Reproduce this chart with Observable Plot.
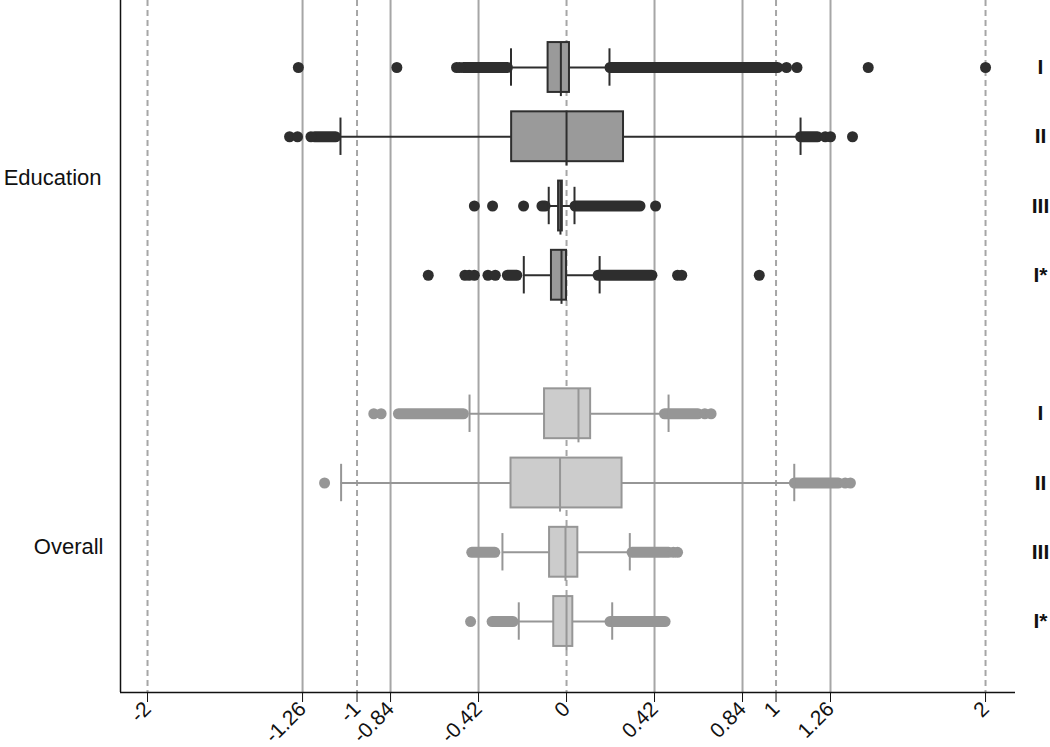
<!DOCTYPE html>
<html>
<head>
<meta charset="utf-8">
<script src="https://cdn.jsdelivr.net/npm/d3@7"></script>
<script src="https://cdn.jsdelivr.net/npm/@observablehq/plot@0.6"></script>
<style>
  html, body { margin: 0; padding: 0; background: #fff; }
</style>
</head>
<body>
<div id="chart"></div>
<script>
// ---- data ----
const groupNames  = ["Education", "Education", "Education", "Education", "Overall", "Overall", "Overall", "Overall"];
const rowLabels   = ["I", "II", "III", "I*", "I", "II", "III", "I*"];
const rowSlot     = [0, 1, 2, 3, 5, 6, 7, 8];   // slot 4 is the gap between groups
const lowerWhisker = [-0.265, -1.079, -0.085, -0.204, -0.463, -1.076, -0.306, -0.228];
const q1Values     = [-0.088, -0.262, -0.038, -0.072, -0.105, -0.265, -0.081, -0.061];
const medianValues = [-0.027,  0.000, -0.029, -0.024,  0.057, -0.031, -0.005,  0.000];
const q3Values     = [ 0.014,  0.272, -0.020,  0.000,  0.115,  0.265,  0.054,  0.030];
const upperWhisker = [ 0.205,  1.117,  0.038,  0.158,  0.487,  1.087,  0.302,  0.218];
// isolated outliers
const outlierValues = [
  [-1.28, -0.81, -0.525, -0.51, 1.05, 1.10, 1.44, 2.0],
  [-1.322, -1.284, -1.22, 1.235, 1.26, 1.365],
  [-0.44, -0.353, -0.205, 0.425],
  [-0.66, -0.485, -0.465, -0.44, -0.375, -0.34, 0.53, 0.55, 0.92],
  [-0.92, -0.885, 0.66, 0.69],
  [-1.155, 1.33, 1.355],
  [0.51, 0.53],
  [-0.458]
];
// runs of densely overlapping outliers [from, to]
const outlierRuns = [
  [[-0.49, -0.28], [0.21, 1.01]],
  [[-1.20, -1.10], [1.12, 1.20]],
  [[-0.115, -0.10], [0.043, 0.353]],
  [[-0.28, -0.235], [0.153, 0.41]],
  [[-0.80, -0.49], [0.47, 0.63]],
  [[1.09, 1.30]],
  [[-0.45, -0.34], [0.315, 0.49]],
  [[-0.353, -0.253], [0.21, 0.473]]
];
const xTicks = [-2, -1.26, -1, -0.84, -0.42, 0, 0.42, 0.84, 1, 1.26, 2];
const solidGrid = [-1.26, -0.84, -0.42, 0.42, 0.84, 1.26];
const dashedGrid = [-2, -1, 0, 1, 2];
const groupLabels = ["Education", "Overall"];

// ---- styles ----
const palette = {
  Education: {fill: "#9a9a9a", stroke: "#2e2e2e"},
  Overall:   {fill: "#cccccc", stroke: "#969696"}
};
const xDomain = [-2.129, 2.143];
const yDomain = [9.025, -0.9675];
const boxHalf = 0.36, capHalf = 0.27;

const rows = rowLabels.map((label, k) => ({
  label, group: groupNames[k], i: rowSlot[k],
  lo: lowerWhisker[k], q1: q1Values[k], med: medianValues[k], q3: q3Values[k], hi: upperWhisker[k]
}));
const caps = rows.flatMap(r => [{i: r.i, x: r.lo, group: r.group}, {i: r.i, x: r.hi, group: r.group}]);
const outs = rows.flatMap((r, k) => outlierValues[k].map(v => ({i: r.i, x: v, group: r.group})));
const runs = rows.flatMap((r, k) => outlierRuns[k].map(([a, b]) => ({i: r.i, x1: a, x2: b, group: r.group})));
const groupMid = groupLabels.map(g => d3.mean(rows.filter(r => r.group === g), r => r.i));

const fillOf = d => palette[d.group].fill;
const strokeOf = d => palette[d.group].stroke;
const font = "'Liberation Sans', Arial, sans-serif";

const chart = Plot.plot({
  width: 1050,
  height: 747,
  marginLeft: 120,
  marginRight: 35,
  marginTop: 0,
  marginBottom: 55,
  style: {fontFamily: font, fontSize: "18px", background: "#fff", color: "#111"},
  x: {domain: xDomain, label: null},
  y: {domain: yDomain, axis: null},
  marks: [
    Plot.ruleX(solidGrid, {stroke: "#a6a6a6", strokeWidth: 2}),
    Plot.ruleX(dashedGrid, {stroke: "#a6a6a6", strokeWidth: 2, strokeDasharray: "6,4"}),
    Plot.axisX({ticks: xTicks, tickFormat: d => String(d), tickRotate: -45, tickSize: 10, tickPadding: 3, fontSize: 21, stroke: "#111", fill: "#111", label: null}),
    Plot.ruleX([xDomain[0]], {stroke: "#111", strokeWidth: 1.5}),
    Plot.ruleY([yDomain[0]], {stroke: "#111", strokeWidth: 1.5}),
    Plot.ruleY(rows, {y: "i", x1: "lo", x2: "hi", stroke: strokeOf, strokeWidth: 2}),
    Plot.ruleY(runs, {y: "i", x1: "x1", x2: "x2", stroke: strokeOf, strokeWidth: 11, strokeLinecap: "round"}),
    Plot.dot(outs, {x: "x", y: "i", r: 5.5, fill: strokeOf, stroke: null}),
    Plot.ruleX(caps, {x: "x", y1: d => d.i - capHalf, y2: d => d.i + capHalf, stroke: strokeOf, strokeWidth: 2}),
    Plot.rect(rows, {x1: "q1", x2: "q3", y1: d => d.i - boxHalf, y2: d => d.i + boxHalf, fill: fillOf, stroke: strokeOf, strokeWidth: 2}),
    Plot.ruleX(rows, {x: "med", y1: d => d.i - boxHalf, y2: d => d.i + boxHalf + 0.06, stroke: strokeOf, strokeWidth: 2}),
    Plot.text(rows, {y: "i", text: "label", frameAnchor: "right", dx: 25, textAnchor: "middle", fontSize: 21, fontWeight: "bold", fill: "#111"}),
    Plot.text([groupLabels[0]], {y: [groupMid[0]], text: d => d, frameAnchor: "left", dx: -19, dy: 7, textAnchor: "end", fontSize: 22, fill: "#111"}),
    Plot.text([groupLabels[1]], {y: [groupMid[1]], text: d => d, frameAnchor: "left", dx: -17, dy: 29, textAnchor: "end", fontSize: 22, fill: "#111"})
  ]
});
document.getElementById("chart").appendChild(chart);
</script>
</body>
</html>
